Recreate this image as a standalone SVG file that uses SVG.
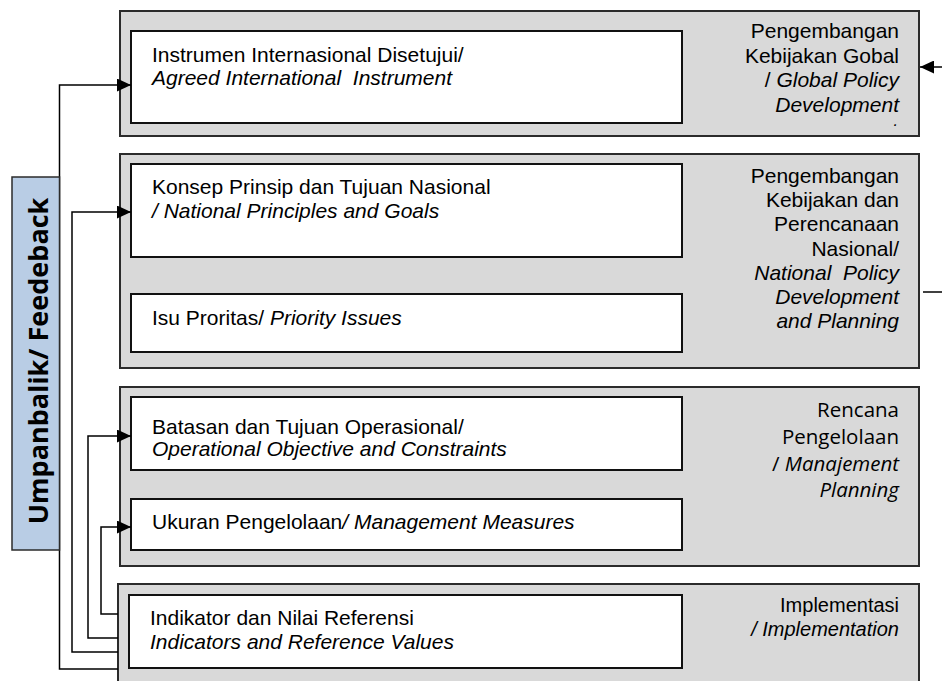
<svg xmlns="http://www.w3.org/2000/svg" width="942" height="681" viewBox="0 0 942 681">
  <defs>
    <style>
      .outer { fill: #d9d9d9; stroke: #2b2b2b; stroke-width: 2; }
      .inner { fill: #ffffff; stroke: #111111; stroke-width: 2; }
      .fb { fill: #b9cde5; stroke: #2b2b2b; stroke-width: 1.5; }
      .conn { fill: none; stroke: #000000; stroke-width: 1.5; }
      .t { font-family: "Liberation Sans", Arial, sans-serif; font-size: 21px; fill: #000000; }
      .sm { font-size: 20px; }
      .dot { font-size: 16px; }
      .r { text-anchor: end; }
      .it { font-style: italic; }
      .cal { font-family: "Open Sans", "Liberation Sans", sans-serif; font-size: 20.5px; fill: #000000; }
      .fbt { font-family: "Open Sans", "Liberation Sans", sans-serif; font-size: 27px; font-weight: bold; fill: #000000; text-anchor: middle; }
    </style>
    <marker id="arrow" markerUnits="userSpaceOnUse" markerWidth="15" markerHeight="13" refX="14" refY="6.5" orient="auto">
      <path d="M0,0 L14,6.5 L0,13 z" fill="#000000"/>
    </marker>
  </defs>

  <!-- Global policy level -->
  <g id="global">
    <rect class="outer" x="120" y="11" width="799" height="125"/>
    <rect id="agreed-instrument" class="inner" x="131" y="31" width="551" height="92"/>
    <text class="t" x="152" y="62">Instrumen Internasional Disetujui/</text>
    <text class="t it" x="152" y="85" xml:space="preserve">Agreed International  Instrument</text>
    <text class="t r" x="899" y="38">Pengembangan</text>
    <text class="t r" x="899" y="63">Kebijakan Gobal</text>
    <text class="t r" x="899" y="87">/ <tspan class="it">Global Policy</tspan></text>
    <text class="t r it" x="899" y="112">Development</text>
    <text class="t dot r it" x="898" y="126">.</text>
  </g>

  <!-- National policy level -->
  <g id="national">
    <rect class="outer" x="120" y="154" width="799" height="214"/>
    <rect id="principles" class="inner" x="131" y="164" width="551" height="93"/>
    <text class="t" x="152" y="194">Konsep Prinsip dan Tujuan Nasional</text>
    <text class="t it" x="152" y="218">/ National Principles and Goals</text>
    <rect id="priority" class="inner" x="131" y="294" width="551" height="58"/>
    <text class="t" x="152" y="325">Isu Proritas/ <tspan class="it">Priority Issues</tspan></text>
    <text class="t r" x="899" y="183">Pengembangan</text>
    <text class="t r" x="899" y="207">Kebijakan dan</text>
    <text class="t r" x="899" y="231">Perencanaan</text>
    <text class="t r" x="899" y="256">Nasional/</text>
    <text class="t r it" x="899" y="280" xml:space="preserve">National  Policy</text>
    <text class="t r it" x="899" y="304">Development</text>
    <text class="t r it" x="899" y="328">and Planning</text>
  </g>

  <!-- Management planning level -->
  <g id="management">
    <rect class="outer" x="120" y="387" width="799" height="179"/>
    <rect id="objectives" class="inner" x="131" y="397" width="551" height="73"/>
    <text class="t" x="152" y="434">Batasan dan Tujuan Operasional/</text>
    <text class="t it" x="152" y="456">Operational Objective and Constraints</text>
    <rect id="measures" class="inner" x="131" y="499" width="551" height="51"/>
    <text class="t" x="152" y="529">Ukuran Pengelolaan<tspan class="it">/ Management Measures</tspan></text>
    <text class="cal r" x="899" y="417">Rencana</text>
    <text class="cal r" x="899" y="444">Pengelolaan</text>
    <text class="cal r" x="899" y="471">/ <tspan class="it">Manajement</tspan></text>
    <text class="cal r it" x="899" y="497">Planning</text>
  </g>

  <!-- Implementation level -->
  <g id="implementation">
    <rect class="outer" x="118" y="584" width="801" height="120"/>
    <rect id="indicators" class="inner" x="129" y="595" width="553" height="73"/>
    <text class="t" x="150" y="625">Indikator dan Nilai Referensi</text>
    <text class="t it" x="150" y="649">Indicators and Reference Values</text>
    <text class="t sm r" x="899" y="612">Implementasi</text>
    <text class="t sm r it" x="899" y="636">/ Implementation</text>
  </g>

  <!-- Feedback loops -->
  <g id="connectors">
    <path class="conn" d="M118,669 H59.5 V85 H131" marker-end="url(#arrow)"/>
    <path class="conn" d="M118,652 H72 V212 H131" marker-end="url(#arrow)"/>
    <path class="conn" d="M118,638 H88 V436 H131" marker-end="url(#arrow)"/>
    <path class="conn" d="M118,614 H101 V527 H131" marker-end="url(#arrow)"/>
    <path class="conn" d="M942,67 H920" marker-end="url(#arrow)"/>
    <path class="conn" d="M923,292 H942"/>
  </g>

  <!-- Feedback label -->
  <g id="feedback">
    <rect class="fb" x="12" y="177" width="47.5" height="373"/>
    <text class="fbt" transform="translate(48,361) rotate(-90)">Umpanbalik/ Feedeback</text>
  </g>
</svg>
